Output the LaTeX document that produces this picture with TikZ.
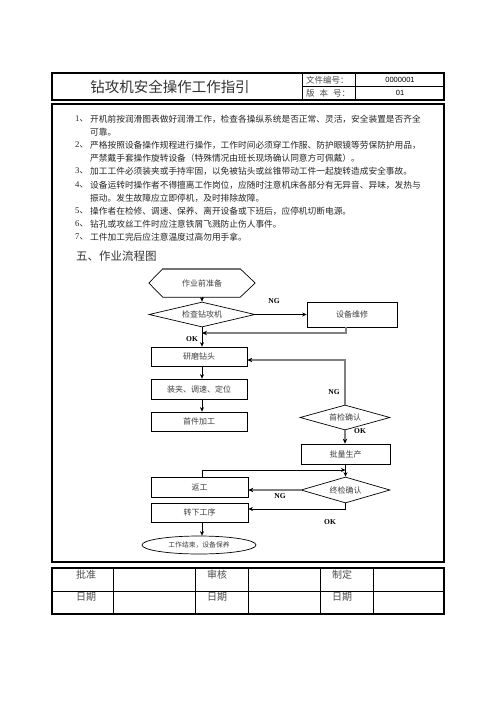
\documentclass[tikz,border=0pt]{standalone}
\usepackage{fontspec}
\setmainfont{Noto Sans CJK SC}
\newfontfamily\lser{Liberation Serif}
\newfontfamily\lsans{Liberation Sans}
\usetikzlibrary{shapes.geometric,arrows.meta}
\begin{document}
\begin{tikzpicture}[x=1pt,y=-1pt,
  frame/.style={line width=1.1pt, draw=black},
  thinline/.style={line width=0.7pt},
  fbox/.style={draw, line width=0.7pt, inner sep=0pt, font=\fontsize{8}{9}\selectfont, text=black!75},
  fdia/.style={draw, diamond, line width=0.7pt, inner sep=0pt, shape aspect=3.6, font=\fontsize{8}{9}\selectfont, text=black!75},
  arr/.style={line width=0.7pt, -{Stealth[length=4.5pt,width=4pt]}},
  garr/.style={line width=1.8pt, draw=black!50, -{Stealth[length=5pt,width=4.5pt,black]}},
  lab/.style={font=\lser\bfseries\fontsize{7.5}{8}\selectfont, inner sep=0pt},
  itemtext/.style={anchor=west, inner sep=0pt, font=\fontsize{8.7}{10}\selectfont, text=black!85},
  numtext/.style={anchor=west, inner sep=0pt, font=\fontsize{8.7}{10}\selectfont, text=black!85},
  celltext/.style={inner sep=0pt, font=\fontsize{10}{11}\selectfont, text=black!70},
  hdrtext/.style={inner sep=0pt, font=\fontsize{8.5}{9}\selectfont, text=black!70},
]
\useasboundingbox (0,0) rectangle (496,702);
\fill[white] (0,0) rectangle (496,702);
% ---------- header table ----------
\draw[frame] (52,73) rectangle (444,100);
\draw[thinline] (302,73) -- (302,100) (355,73) -- (355,100) (302,86.5) -- (444,86.5);
\node (title) [font=\fontsize{14.5}{16}\selectfont, text=black!80] at (170,86.5) {钻攻机安全操作工作指引};
\node (h1) [hdrtext, anchor=west] at (306,80) {文件编号：};
\node (h2) [hdrtext, anchor=west] at (306,93) {版\hspace{5pt}本\hspace{5pt}号：};
\node (v1) [inner sep=0pt, font=\lsans\fontsize{7.5}{8}\selectfont] at (400,80) {0000001};
\node (v2) [inner sep=0pt, font=\lsans\fontsize{7.5}{8}\selectfont] at (400,93) {01};
% ---------- main frame ----------
\draw[frame] (52,104) rectangle (444,562);
\draw[line width=2pt] (52,104) -- (444,104);
% ---------- list ----------
\node (n1) [numtext] at (75,119) {{\lser 1}、};
\node (l1) [itemtext] at (90,119) {开机前按润滑图表做好润滑工作，检查各操纵系统是否正常、灵活，安全装置是否齐全};
\node (l1b) [itemtext] at (90,132) {可靠。};
\node (n2) [numtext] at (75,145) {{\lser 2}、};
\node (l2) [itemtext] at (90,145) {严格按照设备操作规程进行操作，工作时间必须穿工作服、防护眼镜等劳保防护用品，};
\node (l2b) [itemtext] at (90,158) {严禁戴手套操作旋转设备（特殊情况由班长现场确认同意方可佩戴）。};
\node (n3) [numtext] at (75,171) {{\lser 3}、};
\node (l3) [itemtext] at (90,171) {加工工件必须装夹或手持牢固，以免被钻头或丝锥带动工件一起旋转造成安全事故。};
\node (n4) [numtext] at (75,185) {{\lser 4}、};
\node (l4) [itemtext] at (90,185) {设备运转时操作者不得擅离工作岗位，应随时注意机床各部分有无异音、异味，发热与};
\node (l4b) [itemtext] at (90,198) {振动。发生故障应立即停机，及时排除故障。};
\node (n5) [numtext] at (75,211) {{\lser 5}、};
\node (l5) [itemtext] at (90,211) {操作者在检修、调速、保养、离开设备或下班后，应停机切断电源。};
\node (n6) [numtext] at (75,224) {{\lser 6}、};
\node (l6) [itemtext] at (90,224) {钻孔或攻丝工件时应注意铁屑飞溅防止伤人事件。};
\node (n7) [numtext] at (75,237) {{\lser 7}、};
\node (l7) [itemtext] at (90,237) {工件加工完后应注意温度过高勿用手拿。};
\node (sec) [anchor=west, inner sep=0pt, font=\fontsize{11.5}{12}\selectfont, text=black!80] at (76,256) {五、作业流程图};
% ---------- flowchart ----------
\coordinate (ax) at (202,0);
\node (hex) [minimum width=106pt, minimum height=28pt, inner sep=0pt, font=\fontsize{8}{9}\selectfont, text=black!75] at (202,283) {作业前准备};
\draw[line width=0.7pt] (hex.west) -- ([xshift=14pt]hex.north west) -- ([xshift=-15pt]hex.north east) -- (hex.east) -- ([xshift=-15pt]hex.south east) -- ([xshift=14pt]hex.south west) -- cycle;
\draw[line width=1.4pt, draw=black!55] ([xshift=14pt]hex.north west) -- ([xshift=-15pt]hex.north east);
\node (d1) [fdia, minimum width=106pt, minimum height=25pt] at (202,314.5) {检查钻攻机};
\node (rep) [fbox, minimum width=90pt, minimum height=25pt] at (352,314.5) {设备维修};
\node (r1) [fbox, minimum width=96pt, minimum height=19pt] at (199,356.5) {研磨钻头};
\node (r2) [fbox, minimum width=96pt, minimum height=20pt] at (199,389) {装夹、调速、定位};
\node (r3) [fbox, minimum width=96pt, minimum height=19pt] at (199,421.5) {首件加工};
\node (d2) [fdia, minimum width=90pt, minimum height=25pt] at (345,417.5) {首检确认};
\node (r4) [fbox, minimum width=89pt, minimum height=20pt] at (345.5,454) {批量生产};
\node (d3) [fdia, minimum width=89pt, minimum height=26pt] at (345.5,490) {终检确认};
\node (r5) [fbox, minimum width=97pt, minimum height=20pt] at (199.5,487) {返工};
\node (r6) [fbox, minimum width=97pt, minimum height=19pt] at (199.5,512.5) {转下工序};
\node (ell) [draw, ellipse, line width=0.7pt, inner sep=0pt, minimum width=114pt, minimum height=18pt, font=\fontsize{6.8}{7}\selectfont, text=black!75] at (199,545) {工作结束，设备保养};
% connectors
\coordinate (j1) at (202,333);
\coordinate (j2) at (345.5,470);
\draw[arr] (hex.south -| ax) -- (d1.north -| ax);
\draw[arr] (d1.east) -- (rep.west);
\draw[garr] ([xshift=-6pt]rep.south) |- (j1);
\draw[arr] (d1.south -| ax) -- (r1.north -| ax);
\draw[arr] (r1.south -| ax) -- (r2.north -| ax);
\draw[arr] (r2.south -| ax) -- (r3.north -| ax);
\draw[garr] (d2.north) |- ([yshift=-3.5pt]r1.east);
\draw[garr] (d2.south) -- (d2.south |- r4.north);
\draw[arr] (r4.south) -- (d3.north);
\draw[arr] (r5.north -| ax) |- (j2);
\draw[garr] (d3.west) -- (d3.west -| r5.east);
\draw[arr] (d3.south) |- ([yshift=3.5pt]r6.east);
\draw[arr] (r6.south -| ax) -- (ell.north -| ax);
% labels
\node (ng1) [lab] at (274,301) {NG};
\node (ok1) [lab] at (192,339) {OK};
\node (ng2) [lab] at (334,392) {NG};
\node (ok2) [lab] at (360,431) {OK};
\node (ng3) [lab] at (280,496) {NG};
\node (ok3) [lab] at (330,522) {OK};
% ---------- bottom table ----------
\draw[frame] (52,568) rectangle (444,614);
\draw[thinline] (52,591) -- (444,591);
\draw[thinline] (113,568) -- (113,614) (195,568) -- (195,614) (248,568) -- (248,614) (320,568) -- (320,614) (373,568) -- (373,614);
\node (c1) [celltext] at (86,575) {批准};
\node (c2) [celltext] at (86,597) {日期};
\node (c3) [celltext] at (217,575) {审核};
\node (c4) [celltext] at (217,597) {日期};
\node (c5) [celltext] at (342,575) {制定};
\node (c6) [celltext] at (342,597) {日期};
\end{tikzpicture}
\end{document}
